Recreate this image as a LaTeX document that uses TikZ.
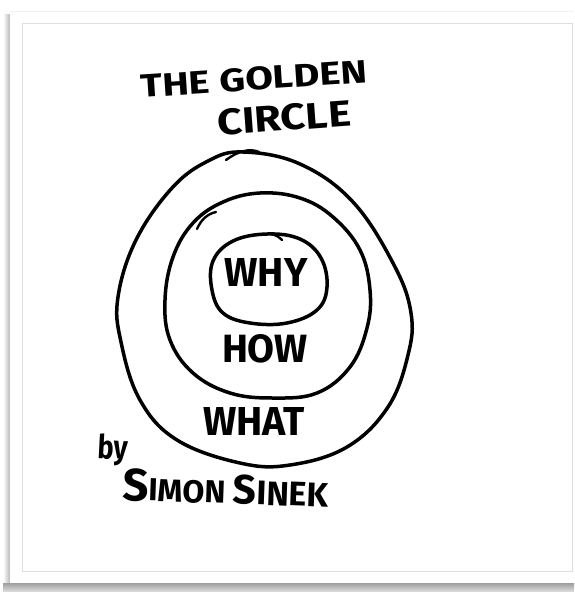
\documentclass[tikz,border=0pt]{standalone}
\usepackage{fontspec}
\setmainfont{Fira Sans}
\usepackage{graphicx}
\begin{document}
\begin{tikzpicture}[x=1pt,y=-1pt,
  ring/.style={line width=3.5pt, line join=round, line cap=round, black},
  flick/.style={line width=2.4pt, line cap=round, black},
  hand/.style={inner sep=0pt, text=black, font=\bfseries}]
\useasboundingbox (0,0) rectangle (574,592);
\fill[white] (0,0) rectangle (574,592);
% card shadows
\shade[left color=white, right color=black!28] (3,14) rectangle (10,583);
\shade[top color=black!38, bottom color=black!12] (3,583) rectangle (574,592);
\fill[black!6] (10,10.5) rectangle (574,11.5);
\fill[white] (10,11.5) rectangle (574,583);
\draw[black!13, line width=0.9pt] (22,23) rectangle (572,571);
% rings
\draw[ring] plot[smooth cycle, tension=0.65] coordinates {
  (243,152) (300,164) (353,202) (394,265) (411,313) (408,355)
  (388,407) (347,447) (290,465) (240,463) (177,440) (140,400)
  (121,342) (118,297) (136,240) (172,188) (208,161)};
\draw[ring] plot[smooth cycle, tension=0.65] coordinates {
  (260,193) (300,198) (333,217) (360,250) (370,290) (367,328)
  (350,367) (317,393) (273,398) (230,393) (193,373) (170,340)
  (165,300) (173,257) (193,223) (223,202)};
\draw[ring] plot[smooth cycle, tension=0.65] coordinates {
  (267,234) (300,239) (321,258) (327,287) (317,310) (287,323)
  (250,323) (223,313) (212,290) (213,261) (233,241)};
% pen overlaps
\draw[flick] (226,160) .. controls (238,151) and (250,148) .. (259,152);
\draw[flick] (197,229) .. controls (201,220) and (207,214) .. (216,212);
\draw[flick] (271,234) .. controls (276,235) and (279,237) .. (282,240);
% texts
\node[hand, rotate=3.8] (title1) at (254,79) {\resizebox{227pt}{23pt}{THE GOLDEN}};
\node[hand, rotate=4.2] (title2) at (284,118) {\resizebox{134pt}{26pt}{CIRCLE}};
\node[hand] (why) at (266,272) {\resizebox{83pt}{28pt}{WHY}};
\node[hand] (how) at (265,349) {\resizebox{86pt}{28pt}{HOW}};
\node[hand] (what) at (254,421) {\resizebox{102pt}{28pt}{WHAT}};
\node[hand, anchor=base west, rotate=-3] (by) at (97,458) {\resizebox{30pt}{25pt}{by}};
\node[hand, anchor=base west, rotate=-2] (author) at (122,500)
  {\resizebox{206pt}{!}{\fontsize{40}{40}\selectfont S\fontsize{28}{28}\selectfont IMON\ \fontsize{36}{36}\selectfont S\fontsize{30}{30}\selectfont INEK}};
\end{tikzpicture}
\end{document}
